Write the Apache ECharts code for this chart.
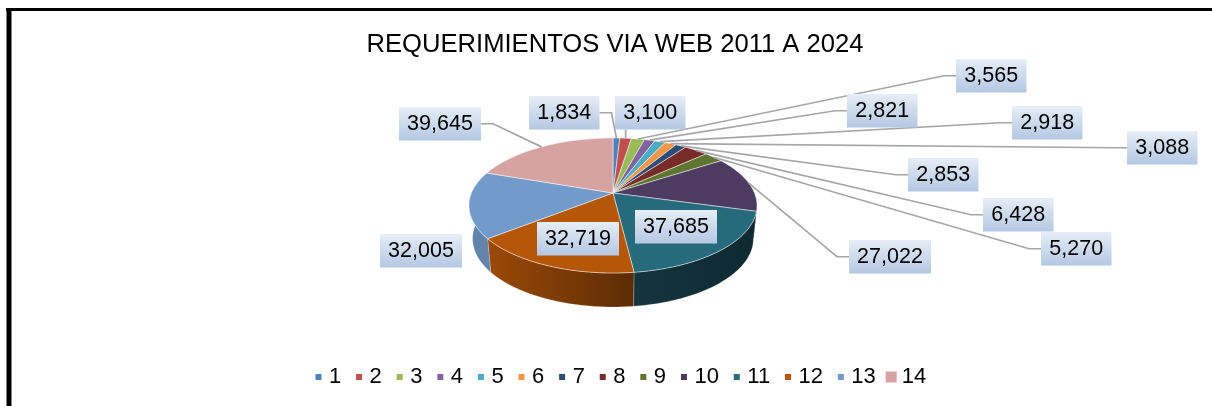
<!DOCTYPE html>
<html>
<head>
<meta charset="utf-8">
<style>
  html, body { margin: 0; padding: 0; background: #fff; }
  #chart { width: 1212px; height: 406px; }
</style>
<script src="https://cdn.jsdelivr.net/npm/echarts@6/dist/echarts.min.js"></script>
</head>
<body>
<div id="chart"></div>
<script>
const categories = ['1', '2', '3', '4', '5', '6', '7', '8', '9', '10', '11', '12', '13', '14']
const values = [1834, 3100, 3565, 2821, 2918, 3088, 2853, 6428, 5270, 27022, 37685, 32719, 32005, 39645]
const colors = ['#4f81bd', '#c0504d', '#9bbb59', '#8064a2', '#4bacc6', '#f79646', '#2c4d75',
  '#772c2a', '#5f7530', '#4d3b62', '#276a7c', '#b65708', '#729aca', '#d7a3a2']

// left, top of each value box; stub says which side the leader leaves from
const labelBoxes = [
  [529, 96, 'right'], [615, 96, 'bottom'], [956, 59, 'left'], [847, 94, 'left'],
  [1012, 106, 'left'], [1127, 131, 'left'], [908, 158, 'left'], [983, 198, 'left'],
  [1041, 232, 'left'], [849, 240, 'left'], [635, 210, null], [537, 222, null],
  [380, 234, null], [399, 107, 'right']
]

// pie geometry, the excel 3d pie has perspective so the top is a projected circle
const CX = 613
const TOP = { y0: 193, rx: 141.5, ry: 65.2 }
const BOTTOM = { y0: 226, rx: 138, ry: 66 }
const K = 0.185

const total = values.reduce((a, b) => a + b, 0)

function project(face, deg) {
  const rad = deg * Math.PI / 180
  const u = Math.sin(rad)
  const v = -Math.cos(rad)
  const d = 1 - K * v
  return [CX + face.rx * u / d, face.y0 + face.ry * v / d]
}

function arc(face, from, to) {
  const pts = []
  const n = Math.max(2, Math.ceil(Math.abs(to - from)))
  for (let i = 0; i <= n; i++) {
    pts.push(project(face, from + (to - from) * i / n))
  }
  return pts
}

function sliceAngles(i) {
  let before = 0
  for (let j = 0; j < i; j++) before += values[j]
  return [before / total * 360, (before + values[i]) / total * 360]
}

// how light the side wall is around the front of the pie
function sideShade(deg) {
  if (deg < 173) return 0.38 + (deg - 100) / 73 * 0.12
  if (deg < 231) return 0.5 + (deg - 173) / 58 * 0.35
  return 0.85
}

function darken(color, s) {
  const c = echarts.color.parse(color)
  return 'rgb(' + Math.round(c[0] * s) + ',' + Math.round(c[1] * s) + ',' + Math.round(c[2] * s) + ')'
}

function renderSlice(i) {
  const [a, b] = sliceAngles(i)
  const color = colors[i]
  const children = []
  // only the front part of the wall can be seen
  const from = Math.max(a, 98)
  const to = Math.min(b, 278)
  if (to > from) {
    const wall = arc(TOP, from, to).concat(arc(BOTTOM, from, to).reverse())
    children.push({
      type: 'polygon',
      shape: { points: wall },
      style: {
        fill: {
          type: 'linear', x: 0, y: 0, x2: 1, y2: 0,
          colorStops: [
            { offset: 0, color: darken(color, sideShade(to)) },
            { offset: 1, color: darken(color, sideShade(from)) }
          ]
        },
        stroke: 'rgba(255,255,255,0.35)',
        lineWidth: 0.6
      }
    })
  }
  children.push({
    type: 'polygon',
    shape: { points: [[CX, TOP.y0]].concat(arc(TOP, a, b)) },
    style: { fill: color, stroke: 'rgba(255,255,255,0.6)', lineWidth: 0.8 }
  })
  return { type: 'group', children: children }
}

function renderLabel(params, api) {
  const i = params.dataIndex
  const [left, top, side] = labelBoxes[i]
  const text = echarts.format.addCommas(api.value(0))
  const w = text.length > 5 ? 82 : 70.5
  const h = 33.5
  const [a, b] = sliceAngles(i)
  const anchor = project(TOP, (a + b) / 2)
  const children = []
  if (side) {
    let pts
    if (side === 'left') pts = [[left, top + h / 2], [left - 12, top + h / 2], anchor]
    if (side === 'right') pts = [[left + w, top + h / 2], [left + w + 12, top + h / 2], anchor]
    if (side === 'bottom') pts = [[anchor[0], top + h], anchor]
    children.push({
      type: 'polyline',
      z2: 1,
      shape: { points: pts },
      style: { stroke: '#a6a6a6', lineWidth: 1.7, fill: null }
    })
  }
  children.push({
    type: 'rect',
    z2: 10,
    shape: { x: left, y: top, width: w, height: h },
    style: {
      fill: {
        type: 'linear', x: 0, y: 0, x2: 0, y2: 1,
        colorStops: [{ offset: 0, color: '#e6edf6' }, { offset: 1, color: '#b4c8e3' }]
      }
    }
  })
  children.push({
    type: 'text',
    z2: 11,
    style: {
      text: text,
      x: left + w / 2,
      y: top + h / 2 + 0.5,
      align: 'center',
      verticalAlign: 'middle',
      fill: '#000',
      font: '21.5px "Liberation Sans"',
      shadowBlur: 2,
      shadowColor: 'rgba(0,0,0,0.35)'
    }
  })
  return { type: 'group', children: children }
}

const chart = echarts.init(document.getElementById('chart'), null, { renderer: 'canvas' })

const sliceSeries = categories.map((name, i) => ({
  name: name,
  type: 'custom',
  coordinateSystem: 'none',
  silent: true,
  itemStyle: { color: colors[i] },
  data: [[values[i]]],
  renderItem: () => renderSlice(i)
}))

chart.setOption({
  animation: false,
  title: {
    text: 'REQUERIMIENTOS VIA WEB 2011 A 2024',
    left: 610,
    textAlign: 'center',
    top: 27,
    textStyle: { fontFamily: 'Liberation Sans', fontSize: 25.6, fontWeight: 'normal', color: '#000' }
  },
  legend: {
    left: 310.5,
    top: 366,
    padding: 0,
    icon: 'rect',
    itemWidth: 11,
    itemHeight: 11,
    itemGap: 9.87,
    selectedMode: false,
    textStyle: { fontFamily: 'Liberation Sans', fontSize: 22, color: '#000' },
    data: categories.map((name, i) => ({
      name: name,
      itemStyle: i < 13 ? { borderColor: '#fff', borderWidth: 5 } : { borderWidth: 0 }
    }))
  },
  graphic: [
    { type: 'rect', shape: { x: 6, y: 8, width: 1206, height: 3 }, style: { fill: '#000' } },
    { type: 'rect', shape: { x: 6.5, y: 8, width: 5, height: 398 }, style: { fill: '#000' } }
  ],
  series: sliceSeries.concat([{
    name: 'labels',
    type: 'custom',
    coordinateSystem: 'none',
    silent: true,
    z: 5,
    data: values.map(v => [v]),
    renderItem: renderLabel
  }])
})
</script>
</body>
</html>
